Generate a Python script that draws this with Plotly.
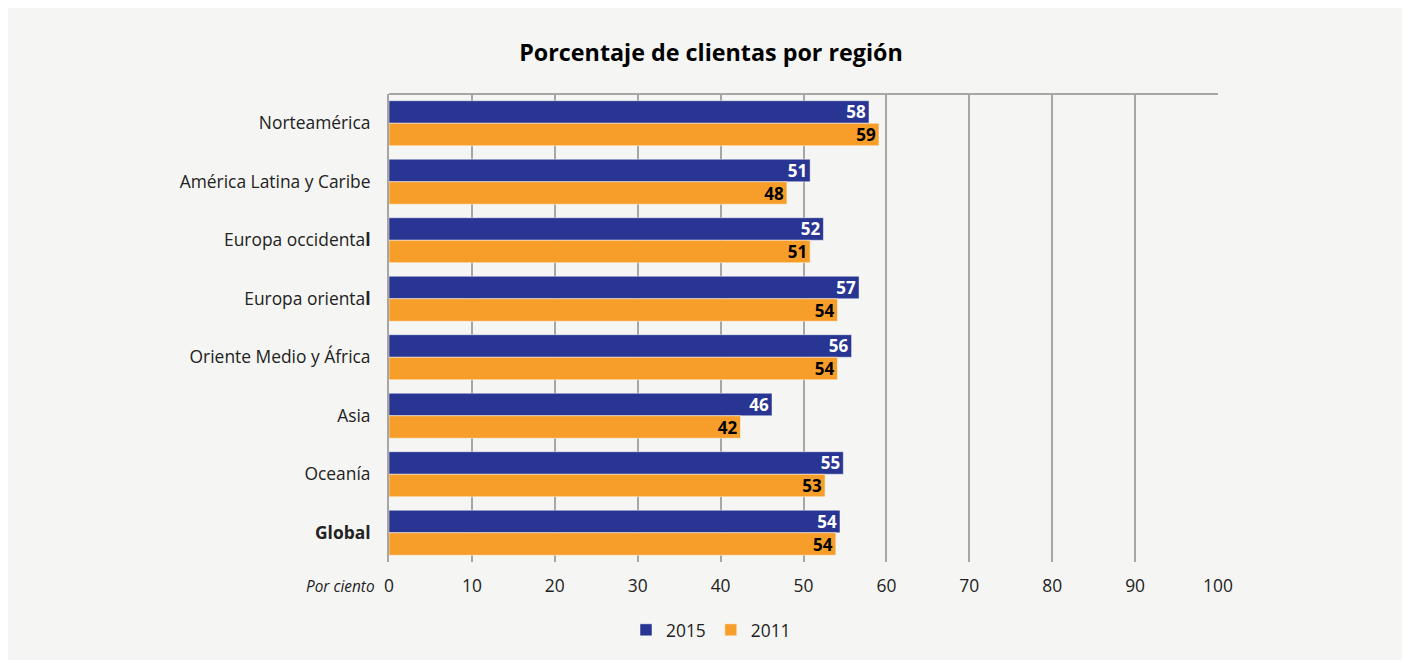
import plotly.graph_objects as go

regions = ["Norteamérica", "América Latina y Caribe", "Europa occidenta<b>l</b>",
           "Europa orienta<b>l</b>", "Oriente Medio y África", "Asia", "Oceanía", "<b>Global</b>"]
v2015 = [57.9, 50.8, 52.4, 56.7, 55.8, 46.2, 54.8, 54.4]
v2011 = [59.1, 48.0, 50.8, 54.1, 54.1, 42.4, 52.6, 53.9]
x_ticks = [0, 10, 20, 30, 40, 50, 60, 70, 80, 90, 100]

# page offset of the figure (browser body margin)
OFF = 8
W, H = 1405 - OFF, 660 - OFF
L, R, T, B = 389 - OFF, 1405 - 1218, 94 - OFF, 660 - 562
pw, ph = W - L - R, H - T - B

def px2x(px):
    return (px - OFF - L) / pw

def py2y(py):
    return (H - B - (py - OFF)) / ph

FONT = "Open Sans"
BG = "#f5f5f3"
FS = 17.4

fig = go.Figure()
fig.add_trace(go.Bar(
    y=regions, x=v2015, name="2015", orientation="h",
    marker=dict(color="#283593", line=dict(color="rgba(255,255,255,0.6)", width=0.8)),
    texttemplate="%{x:.0f}", textposition="inside", insidetextanchor="end",
    textangle=0, constraintext="none",
    textfont=dict(family=FONT, size=17, color="white", weight="bold"),
))
fig.add_trace(go.Bar(
    y=regions, x=v2011, name="2011", orientation="h",
    marker=dict(color="#f79e2a", line=dict(color="rgba(255,255,255,0.6)", width=0.8)),
    texttemplate="%{x:.0f}", textposition="inside", insidetextanchor="end",
    textangle=0, constraintext="none",
    textfont=dict(family=FONT, size=17, color="black", weight="bold"),
))

fig.update_layout(
    width=W, height=H,
    margin=dict(l=L, r=R, t=T, b=B, pad=0),
    paper_bgcolor=BG,
    plot_bgcolor="rgba(0,0,0,0)",
    barmode="group", bargap=0.23, bargroupgap=0,
    font=dict(family=FONT, size=FS, color="#222222"),
    title=dict(text="<b>Porcentaje de clientas por región</b>", x=(711 - OFF) / W,
               xanchor="center", y=1 - (53 - OFF) / H, yanchor="middle", yref="container",
               xref="container", font=dict(family=FONT, size=23.3, color="black")),
    xaxis=dict(range=[0, 100], tickvals=x_ticks, showgrid=True, gridcolor="#a6a6a6",
               gridwidth=2, zeroline=False, showline=False, ticks="",
               ticklabelstandoff=12, tickfont=dict(size=FS, color="#222222"),
               fixedrange=True),
    yaxis=dict(autorange="reversed", showline=True, linecolor="#a6a6a6", linewidth=2,
               ticks="", ticklabelstandoff=13, tickfont=dict(size=FS, color="#222222"),
               showgrid=False, fixedrange=True),
    legend=dict(orientation="h", x=px2x(711), xanchor="center", y=py2y(630), yanchor="middle",
                font=dict(size=FS, color="#222222"), traceorder="normal",
                bgcolor="rgba(0,0,0,0)", itemwidth=30),
    showlegend=True,
    shapes=[
        dict(type="line", xref="paper", yref="paper", x0=0, x1=1, y0=1, y1=1,
             line=dict(color="#a6a6a6", width=2), layer="below"),
    ],
    annotations=[
        dict(text="<i>Por ciento</i>", xref="paper", yref="paper", x=px2x(377), y=py2y(586),
             xanchor="right", yanchor="middle", showarrow=False,
             font=dict(family=FONT, size=15.4, color="#222222")),
    ],
)

fig.write_html("out.html")
